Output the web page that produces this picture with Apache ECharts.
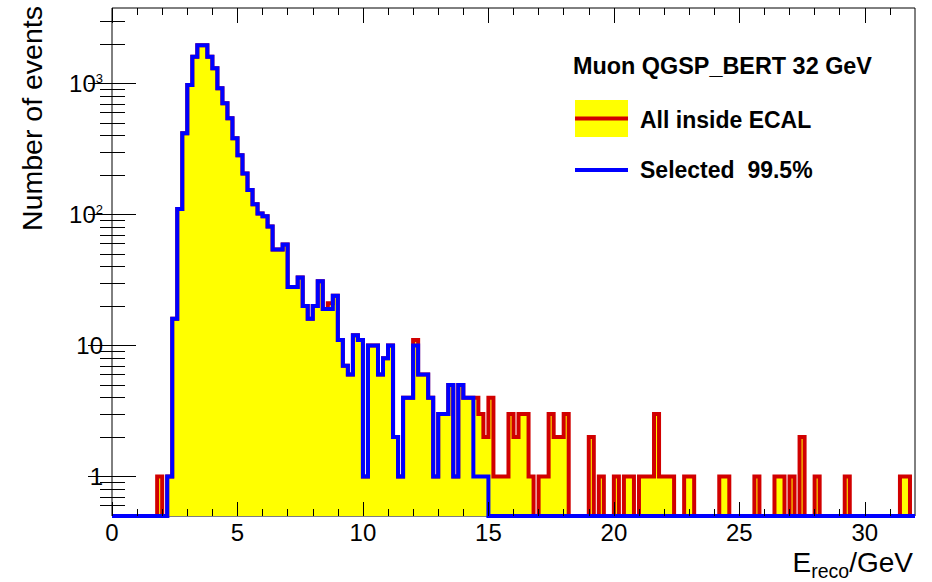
<!DOCTYPE html>
<html>
<head>
<meta charset="utf-8">
<title>Muon QGSP_BERT 32 GeV</title>
<script src="https://cdn.jsdelivr.net/npm/echarts@6/dist/echarts.min.js"></script>
<style>
  html, body { margin: 0; padding: 0; background: #fff; }
  #chart { width: 932px; height: 582px; }
</style>
</head>
<body>
<div id="chart"></div>
<script>
// Reconstructed energy histogram, 160 bins of 0.2 GeV between 0 and 32 GeV.
const BIN_WIDTH = 0.2;
const X_MIN = 0;
const X_MAX = 32;
const Y_MIN = 0.5;
const Y_MAX = 3770;

// Events per bin: all muons inside the ECAL.
const ALL_INSIDE = [
  0, 0, 0, 0, 0, 0, 0, 0, 0, 1, 0, 1, 16, 110, 417, 975, 1600, 1960, 1960, 1600,
  1306, 919, 706, 543, 382, 284, 206, 154, 120, 102, 97, 81, 54, 54, 59, 28, 28, 33, 20, 16,
  20, 31, 19, 21, 24, 11, 7, 6, 12, 11, 1, 10, 10, 6, 8, 10, 2, 1, 4, 4,
  11, 6, 6, 4, 1, 3, 3, 5, 1, 5, 4, 4, 4, 3, 2, 4, 1, 1, 1, 3,
  2, 3, 3, 1, 0, 1, 1, 3, 2, 2, 3, 0, 0, 0, 0, 2, 0, 1, 0, 0,
  1, 0, 1, 1, 0, 1, 1, 1, 3, 1, 1, 1, 0, 0, 1, 1, 0, 0, 0, 0,
  0, 1, 1, 0, 0, 0, 0, 0, 1, 0, 0, 0, 1, 1, 0, 1, 0, 2, 0, 0,
  1, 0, 0, 0, 0, 0, 1, 0, 0, 0, 0, 0, 0, 0, 0, 0, 0, 1, 1, 0
];

// Events per bin: selected muons.
const SELECTED = [
  0, 0, 0, 0, 0, 0, 0, 0, 0, 0, 0, 1, 16, 110, 417, 975, 1600, 1960, 1960, 1600,
  1306, 919, 706, 543, 382, 284, 206, 154, 120, 102, 97, 81, 54, 54, 59, 28, 28, 33, 20, 16,
  20, 31, 19, 19, 24, 11, 7, 6, 12, 11, 1, 10, 10, 6, 8, 10, 2, 1, 4, 4,
  10, 6, 6, 4, 1, 3, 3, 5, 1, 5, 4, 4, 1, 1, 1, 0, 0, 0, 0, 0,
  0, 0, 0, 0, 0, 0, 0, 0, 0, 0, 0, 0, 0, 0, 0, 0, 0, 0, 0, 0,
  0, 0, 0, 0, 0, 0, 0, 0, 0, 0, 0, 0, 0, 0, 0, 0, 0, 0, 0, 0,
  0, 0, 0, 0, 0, 0, 0, 0, 0, 0, 0, 0, 0, 0, 0, 0, 0, 0, 0, 0,
  0, 0, 0, 0, 0, 0, 0, 0, 0, 0, 0, 0, 0, 0, 0, 0, 0, 0, 0, 0
];

const X_MAJOR_TICKS = [0, 5, 10, 15, 20, 25, 30];
const X_MINOR_TICKS = [1, 2, 3, 4, 6, 7, 8, 9, 11, 12, 13, 14, 16, 17, 18, 19,
  21, 22, 23, 24, 26, 27, 28, 29, 31];
const Y_MAJOR_TICKS = [1, 10, 100, 1000];
const Y_TICK_LABELS = ['1', '10', '10{sup|2}', '10{sup|3}'];
const Y_MINOR_TICKS = [0.6, 0.7, 0.8, 0.9, 2, 3, 4, 5, 6, 7, 8, 9,
  20, 30, 40, 50, 60, 70, 80, 90, 200, 300, 400, 500, 600, 700, 800, 900, 2000, 3000];

const SERIES_NAMES = ['All inside ECAL', 'Selected  99.5%'];
const TITLE = 'Muon QGSP_BERT 32 GeV';

const FONT = "'Liberation Sans', Arial, Helvetica, sans-serif";
const RED = '#d10000';
const BLUE = '#0000ff';
const YELLOW = '#ffff00';

// Histogram outline as left-edge points; empty bins sit on the frame bottom.
function stepPoints(counts) {
  const pts = counts.map((c, i) => [i * BIN_WIDTH, c > 0 ? c : Y_MIN]);
  pts.push([counts.length * BIN_WIDTH, pts[pts.length - 1][1]]);
  return pts;
}

function yLabel(v) {
  for (let i = 0; i < Y_MAJOR_TICKS.length; i++) {
    if (Math.abs(Math.log10(v) - Math.log10(Y_MAJOR_TICKS[i])) < 1e-6) return Y_TICK_LABELS[i];
  }
  return '';
}

function xAxisDef(position, ticks, len, withLabels) {
  return {
    type: 'value', position, min: X_MIN, max: X_MAX, z: 10,
    axisLine: { show: false }, splitLine: { show: false },
    axisTick: { show: true, inside: true, length: len, customValues: ticks,
      lineStyle: { color: '#000', width: 1 } },
    axisLabel: withLabels
      ? { show: true, customValues: ticks, margin: 4, fontSize: 24, color: '#000', fontFamily: FONT }
      : { show: false }
  };
}

function yAxisDef(position, ticks, len, withLabels) {
  return {
    type: 'log', logBase: 10, position, min: Y_MIN, max: Y_MAX, z: 10,
    axisLine: { show: false }, splitLine: { show: false },
    axisTick: { show: true, inside: true, length: len, customValues: ticks,
      lineStyle: { color: '#000', width: 1 } },
    axisLabel: withLabels
      ? { show: true, customValues: ticks, margin: 9, fontSize: 24, color: '#000', fontFamily: FONT,
          formatter: yLabel,
          rich: { sup: { fontSize: 13, fontFamily: FONT, color: '#000', verticalAlign: 'top' } } }
      : { show: false }
  };
}

const chart = echarts.init(document.getElementById('chart'), null, { renderer: 'svg' });

chart.setOption({
  animation: false,
  backgroundColor: '#fff',
  grid: { left: 112, right: 17, top: 8, bottom: 66, show: true,
    borderColor: '#000', borderWidth: 1, backgroundColor: 'transparent' },
  xAxis: [
    xAxisDef('bottom', X_MAJOR_TICKS, 14, true),
    xAxisDef('bottom', X_MINOR_TICKS, 7, false),
    xAxisDef('top', X_MAJOR_TICKS, 15, false),
    xAxisDef('top', X_MINOR_TICKS, 7, false)
  ],
  yAxis: [
    yAxisDef('left', Y_MAJOR_TICKS, 24, true),
    yAxisDef('left', Y_MINOR_TICKS, 13, false),
    yAxisDef('right', Y_MAJOR_TICKS, 24, false),
    yAxisDef('right', Y_MINOR_TICKS, 12, false)
  ],
  series: [
    {
      name: SERIES_NAMES[0], type: 'line', step: 'end', xAxisIndex: 0, yAxisIndex: 0,
      data: stepPoints(ALL_INSIDE), symbol: 'none', clip: false, z: 2, silent: true,
      lineStyle: { color: RED, width: 4, join: 'miter', cap: 'butt' },
      areaStyle: { color: YELLOW, opacity: 1, origin: 'start' }
    },
    {
      name: SERIES_NAMES[1], type: 'line', step: 'end', xAxisIndex: 0, yAxisIndex: 0,
      data: stepPoints(SELECTED), symbol: 'none', clip: false, z: 3, silent: true,
      lineStyle: { color: BLUE, width: 4, join: 'miter', cap: 'butt' }
    }
  ],
  graphic: [
    // axis titles
    { type: 'text', x: 32, y: 6, rotation: Math.PI / 2, z: 20,
      style: { text: 'Number of events', fontSize: 28.5, fontFamily: FONT, fill: '#000',
        align: 'right', verticalAlign: 'middle' } },
    { type: 'text', x: 913, y: 548, z: 20,
      style: { text: '{n|E}{s|reco}{n|/GeV}', fill: '#000', align: 'right', verticalAlign: 'top',
        rich: {
          n: { fontSize: 28, fontFamily: FONT, lineHeight: 30, verticalAlign: 'top', fill: '#000' },
          s: { fontSize: 19.5, fontFamily: FONT, lineHeight: 20, verticalAlign: 'top', padding: [13, 0, 0, 0], fill: '#000' }
        } } },
    // legend
    { type: 'text', x: 573, y: 65.5, z: 20,
      style: { text: TITLE, fontSize: 23.4, fontWeight: 'bold', fontFamily: FONT, fill: '#000',
        align: 'left', verticalAlign: 'middle' } },
    { type: 'rect', z: 20, shape: { x: 575, y: 100, width: 53, height: 37 }, style: { fill: YELLOW } },
    { type: 'line', z: 21, shape: { x1: 575, y1: 118.5, x2: 628, y2: 118.5 },
      style: { stroke: RED, lineWidth: 4 } },
    { type: 'text', x: 640, y: 119.5, z: 20,
      style: { text: SERIES_NAMES[0], fontSize: 23, fontWeight: 'bold', fontFamily: FONT, fill: '#000',
        align: 'left', verticalAlign: 'middle' } },
    { type: 'line', z: 21, shape: { x1: 575, y1: 170, x2: 628, y2: 170 },
      style: { stroke: BLUE, lineWidth: 4 } },
    { type: 'text', x: 640, y: 170, z: 20,
      style: { text: SERIES_NAMES[1], fontSize: 23, fontWeight: 'bold', fontFamily: FONT, fill: '#000',
        align: 'left', verticalAlign: 'middle' } }
  ]
});
</script>
</body>
</html>
